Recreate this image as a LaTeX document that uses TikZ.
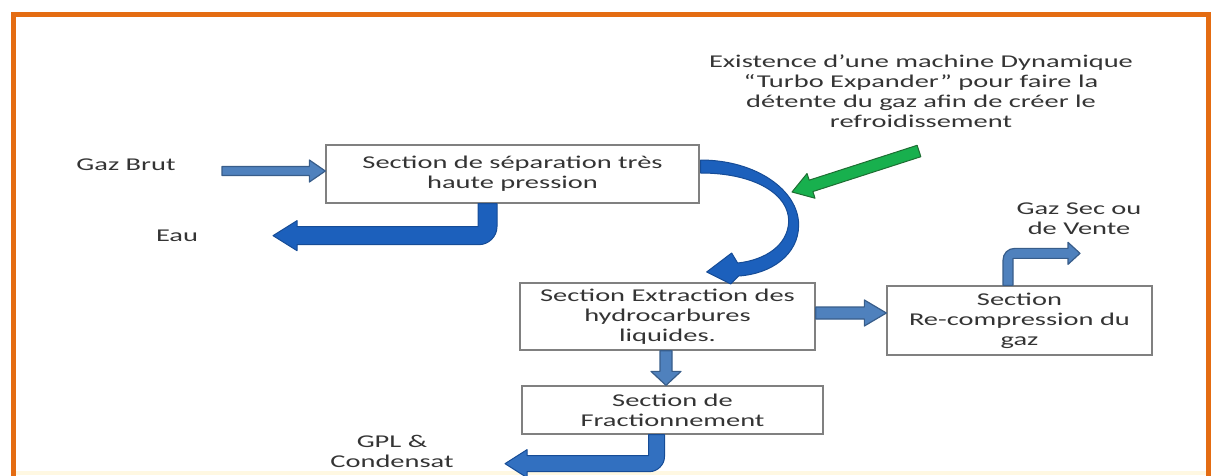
\documentclass[tikz,border=0pt]{standalone}
\usepackage{fontspec}
\setmainfont{Carlito}[FakeStretch=1.58]
\usetikzlibrary{calc}

\definecolor{frameorange}{RGB}{228,108,18}
\definecolor{paleband}{RGB}{255,248,226}
\definecolor{steelfill}{RGB}{79,129,189}
\definecolor{steelline}{RGB}{56,93,138}
\definecolor{deepfill}{RGB}{28,96,188}
\definecolor{deepline}{RGB}{22,76,150}
\definecolor{midfill}{RGB}{50,112,192}
\definecolor{greenfill}{RGB}{24,176,78}
\definecolor{greenline}{RGB}{30,110,50}
\definecolor{txt}{RGB}{52,52,52}
\definecolor{boxline}{RGB}{128,128,128}

% straight block arrow: style, tail, tip, shaft half width, head half width, head length
\newcommand\flowarrow[6]{%
  \coordinate (fa-h) at ($(#3)!#6!(#2)$);
  \path[#1] (#3) -- ($(fa-h)!#5!90:(#3)$) -- ($(fa-h)!#4!90:(#3)$)
    -- ($(#2)!#4!90:(#3)$) -- ($(#2)!#4!-90:(#3)$)
    -- ($(fa-h)!#4!-90:(#3)$) -- ($(fa-h)!#5!-90:(#3)$) -- cycle;
}

\begin{document}
\begin{tikzpicture}[x=1pt,y=-1pt,
  every node/.style={font=\fontsize{18}{20}\selectfont, text=txt},
  stepbox/.style={draw=boxline, line width=1.3pt, fill=white, align=center, inner sep=0pt},
  lbl/.style={align=center, inner sep=0pt},
  steel/.style={fill=steelfill, draw=steelline, line width=1.2pt, line join=round},
  deep/.style={fill=deepfill, draw=deepline, line width=1pt, line join=round},
  mid/.style={fill=midfill, draw=deepline, line width=1pt, line join=round},
  greenarrow/.style={fill=greenfill, draw=greenline, line width=1pt, line join=round}]
\useasboundingbox (0,0) rectangle (1219,475);

% pale strip along the lower edge, then the orange frame, open at the bottom
\fill[paleband] (15,471) rectangle (1206,475);
\draw[frameorange, line width=5pt] (13,476) -- (13,14.5) -- (1208,14.5) -- (1208,476);

% process boxes
\node[stepbox, minimum width=373pt, minimum height=58pt] (b1) at (512.5,174)
  {Section de séparation très\\haute pression};
\node[stepbox, minimum width=295pt, minimum height=67pt] (b2) at (667.5,316.5)
  {Section Extraction des\\hydrocarbures\\liquides.};
\node[stepbox, minimum width=265pt, minimum height=69pt] (b3) at (1019.5,320.5)
  {Section\\Re-compression du\\gaz};
\node[stepbox, minimum width=301pt, minimum height=48pt] (b4) at (672.5,410)
  {Section de\\Fractionnement};

% free labels
\node[lbl] (gazbrut) at (126,165) {Gaz Brut};
\node[lbl] (eau) at (177,236) {Eau};
\node[lbl] (note) at (921,91) {Existence d’une machine Dynamique\\“Turbo Expander” pour faire la\\détente du gaz afin de créer le\\refroidissement};
\node[lbl] (gazsec) at (1079,219) {Gaz Sec ou\\de Vente};
\node[lbl] (gpl) at (392,451) {GPL \&\\Condensat};

% straight arrows
\coordinate (gb-t) at (222,171);
\coordinate (gb-h) at ($(b1.west)+(0,-3)$);
\flowarrow{steel}{gb-t}{gb-h}{4.5pt}{11pt}{16pt}

\coordinate (x-t) at ($(b2.east)+(0,-3.5)$);
\coordinate (x-h) at (b3.west|-x-t);
\flowarrow{steel}{x-t}{x-h}{6pt}{13pt}{22pt}

\coordinate (f-t) at ($(b2.south)+(-1.5,0)$);
\coordinate (f-h) at (b4.north-|f-t);
\flowarrow{steel}{f-t}{f-h}{6pt}{15pt}{14pt}

% turbo expander input
\coordinate (g-t) at (919,151);
\coordinate (g-h) at (792,192);
\flowarrow{greenarrow}{g-t}{g-h}{6pt}{13pt}{20pt}

% water outlet
\begin{scope}[shift={($(b1.south)+(-25,0)$)}]
  \path[deep] (-9.5,0) -- (-9.5,23) -- (-190.5,23) -- (-190.5,17) -- (-214.5,32)
    -- (-190.5,47) -- (-190.5,41) -- (-8.5,41) .. controls (1,41) and (9.5,33) .. (9.5,23)
    -- (9.5,0) -- cycle;
\end{scope}

% curved flow from the separation to the extraction
\begin{scope}[shift={(b1.east)}]
  \path[deep] (1,-14) .. controls (56,-14) and (99,16) .. (99,51)
    .. controls (99,81) and (71,100) .. (39,102)
    -- (31,110) -- (7,98) -- (32,79) -- (38,89)
    .. controls (66,86) and (88,71) .. (89,48)
    .. controls (90,21) and (56,-1) .. (1,-1) -- cycle;
\end{scope}

% dry gas outlet
\begin{scope}[shift={($(b3.north)+(-11.5,0)$)}]
  \path[steel] (-5,0) -- (-5,-25) .. controls (-5,-32) and (0,-37) .. (7,-37)
    -- (60,-37) -- (60,-43) -- (72,-32) -- (60,-21) -- (60,-27) -- (5,-27) -- (5,0) -- cycle;
\end{scope}

% LPG and condensate outlet
\begin{scope}[shift={($(b4.south)+(-16,0)$)}]
  \path[mid] (-8,0) -- (-8,21) -- (-129.5,21) -- (-129.5,15) -- (-151.5,29)
    -- (-129.5,43) -- (-129.5,37) -- (-7,37) .. controls (1,37) and (8,30) .. (8,22)
    -- (8,0) -- cycle;
\end{scope}
\end{tikzpicture}
\end{document}
